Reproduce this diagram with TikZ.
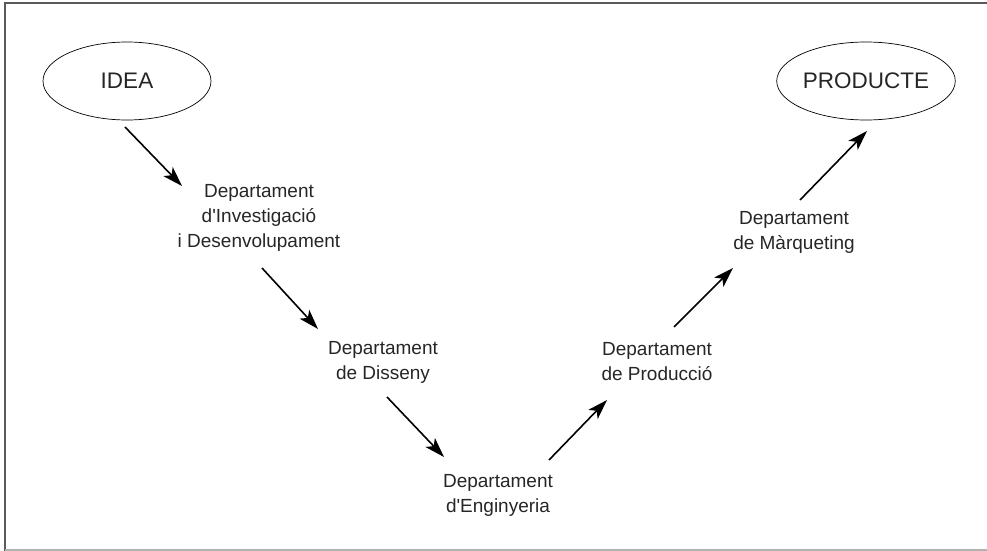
\documentclass[tikz,border=0pt]{standalone}
\usepackage{fontspec}
\setmainfont{Liberation Sans}
\usetikzlibrary{arrows.meta,shapes.geometric}
\begin{document}
\begin{tikzpicture}[x=1pt,y=-1pt,
  ends/.style={ellipse,draw,line width=0.7pt,minimum width=168pt,minimum height=78pt,
    inner sep=0pt,font=\fontsize{22.5}{27}\selectfont,text=black!85},
  dept/.style={align=center,inner sep=0pt,font=\fontsize{19}{25}\selectfont,text=black!85},
  flow/.style={line width=1.6pt,-{Stealth[length=20pt,width=13pt,inset=5pt]}}]
\useasboundingbox (0,0) rectangle (987,551);
% frame
\draw[line width=2pt,black!65] (5,551) -- (5,3) -- (987,3);
\draw[line width=1.6pt,black!30] (5,550) -- (987,550);
% stages
\node[ends] (idea) at (127,81) {IDEA};
\node[ends] (prod) at (866,81) {PRODUCTE};
\node[dept] (rd)  at (259,218) {Departament\\d\textquotesingle Investigació\\i Desenvolupament};
\node[dept] (dis) at (383,362) {Departament\\de Disseny};
\node[dept] (eng) at (498,495) {Departament\\d\textquotesingle Enginyeria};
\node[dept] (pro) at (657,362) {Departament\\de Producció};
\node[dept] (mar) at (794,232) {Departament\\de Màrqueting};
% flow
\draw[flow] ([shift={(-2,46)}]idea.center) -- ([shift={(-77,-32)}]rd.center);
\draw[flow] ([shift={(3,50)}]rd.center) -- ([shift={(-65,-33)}]dis.center);
\draw[flow] ([shift={(4,35)}]dis.center) -- ([shift={(-54,-38)}]eng.center);
\draw[flow] ([shift={(51,-35)}]eng.center) -- ([shift={(-50,38)}]pro.center);
\draw[flow] ([shift={(17,-35)}]pro.center) -- ([shift={(-61,36)}]mar.center);
\draw[flow] ([shift={(6,-32)}]mar.center) -- ([shift={(1,50)}]prod.center);
\end{tikzpicture}
\end{document}
